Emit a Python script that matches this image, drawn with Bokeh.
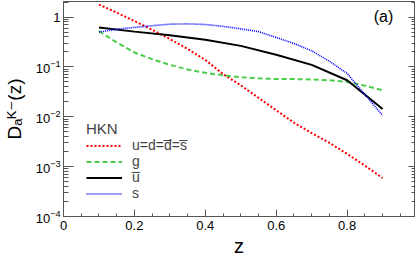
from bokeh.plotting import figure
from bokeh.models import (SingleIntervalTicker, LogTicker, LogAxis, CustomJSTickFormatter,
                          Legend, LegendItem, Label)
from bokeh.embed import file_html
from bokeh.resources import INLINE

# ---- data ----
z_fine = [0.10, 0.15, 0.20, 0.25, 0.30, 0.35, 0.40, 0.45, 0.50, 0.55, 0.60,
          0.65, 0.70, 0.75, 0.80, 0.85, 0.90]
d_quark = [1.78, 1.23, 0.83, 0.556, 0.363, 0.229, 0.138, 0.072, 0.0427, 0.024,
           0.0135, 0.0076, 0.0047, 0.0030, 0.0018, 0.00105, 0.00059]
d_gluon = [0.52, 0.31, 0.195, 0.143, 0.110, 0.089, 0.076, 0.068, 0.062, 0.059,
           0.057, 0.057, 0.056, 0.054, 0.050, 0.042, 0.034]
d_strange = [0.50, 0.57, 0.62, 0.67, 0.72, 0.73, 0.71, 0.65, 0.58, 0.51,
             0.39, 0.295, 0.21, 0.13, 0.074, 0.028, 0.0106]
z_coarse = [0.1, 0.2, 0.3, 0.4, 0.5, 0.6, 0.7, 0.8, 0.9]
d_ubar = [0.62, 0.51, 0.43, 0.35, 0.264, 0.175, 0.11, 0.054, 0.0143]

legend_title = "HKN"
labels = ["u=d=d\u0305=s\u0305", "g", "u\u0305", "s"]
x_ticks_interval = 0.2
y_label = "D\u2090\u1D37\u207B(z)"
x_label = "z"
panel_tag = "(a)"

FONT = "Liberation Sans"
AX = "#555555"

p = figure(width=415, height=259, x_range=(0, 0.99), y_range=(1e-4, 2.05),
           y_axis_type="log", output_backend="svg", toolbar_location=None,
           min_border_left=62, min_border_right=1, min_border_top=1,
           min_border_bottom=37)
p.background_fill_color = "white"
p.border_fill_color = "white"
p.grid.visible = False
p.outline_line_color = AX
p.outline_line_width = 1

# x axis
xa = p.xaxis[0]
xa.ticker = SingleIntervalTicker(interval=x_ticks_interval, num_minor_ticks=4)
xa.formatter = CustomJSTickFormatter(code="return Math.abs(tick) < 1e-9 ? '0' : tick.toFixed(1);")
xa.major_tick_in = 7
xa.major_tick_out = 0
xa.minor_tick_in = 3
xa.minor_tick_out = 0
xa.axis_line_color = AX
xa.major_tick_line_color = AX
xa.minor_tick_line_color = AX
xa.major_label_text_font = FONT
xa.major_label_text_font_size = "13px"
xa.major_label_text_color = "black"
xa.major_label_standoff = 4
xa.axis_label = x_label
xa.axis_label_text_font = FONT
xa.axis_label_text_font_size = "20px"
xa.axis_label_text_font_style = "normal"
xa.axis_label_text_color = "black"
xa.axis_label_standoff = 2

# y axis
ya = p.yaxis[0]
ya.ticker = LogTicker(desired_num_ticks=6, num_minor_ticks=10)
ya.major_tick_in = 10
ya.major_tick_out = 0
ya.minor_tick_in = 5
ya.minor_tick_out = 0
ya.axis_line_color = AX
ya.major_tick_line_color = AX
ya.minor_tick_line_color = AX
ya.major_label_text_font = FONT
ya.major_label_text_font_size = "13px"
ya.major_label_text_color = "black"
ya.major_label_standoff = 3
ya.major_label_overrides = {1: "1"}
ya.axis_label = y_label
ya.axis_label_text_font = "Liberation Sans, DejaVu Sans"
ya.axis_label_text_font_size = "19px"
ya.axis_label_text_font_style = "normal"
ya.axis_label_text_color = "black"
ya.axis_label_standoff = 8

# right mirror axis (ticks only)
ra = LogAxis(ticker=LogTicker(desired_num_ticks=6, num_minor_ticks=10),
             formatter=CustomJSTickFormatter(code="return '';"))
ra.major_tick_in = 6
ra.major_tick_out = 0
ra.minor_tick_in = 3
ra.minor_tick_out = 0
ra.axis_line_color = AX
ra.major_tick_line_color = AX
ra.minor_tick_line_color = AX
ra.major_label_standoff = 0
ra.major_label_text_font_size = "1px"
p.add_layout(ra, "right")

r1 = p.line(z_fine, d_quark, line_color="#ff0000", line_width=2, line_dash="2 2")
r2 = p.line(z_fine, d_gluon, line_color="#4ccc4c", line_width=2, line_dash="5 3")
r3 = p.line(z_coarse, d_ubar, line_color="black", line_width=2)
r4 = p.line(z_fine, d_strange, line_color="#0000ff", line_width=1.6, line_dash="1 1")

legend = Legend(items=[LegendItem(label=labels[0], renderers=[r1]),
                       LegendItem(label=labels[1], renderers=[r2]),
                       LegendItem(label=labels[2], renderers=[r3]),
                       LegendItem(label=labels[3], renderers=[r4])],
                location=(23, 15), title=legend_title)
legend.border_line_alpha = 0
legend.background_fill_alpha = 0
legend.padding = 0
legend.margin = 0
legend.spacing = -1
legend.glyph_width = 36
legend.glyph_height = 15
legend.label_height = 15
legend.label_standoff = 10
legend.label_text_font = FONT
legend.label_text_font_size = "14px"
legend.title_text_font = FONT
legend.title_text_font_size = "15px"
legend.title_text_font_style = "normal"
legend.title_standoff = -6
p.add_layout(legend)

# panel tag, frame-relative screen units
p.add_layout(Label(text=panel_tag, x=320, y=200, x_units="screen", y_units="screen",
                   text_font=FONT, text_font_size="16px", text_align="center",
                   text_baseline="alphabetic", text_color="black"))

open("out.html", "w").write(file_html(p, INLINE))
